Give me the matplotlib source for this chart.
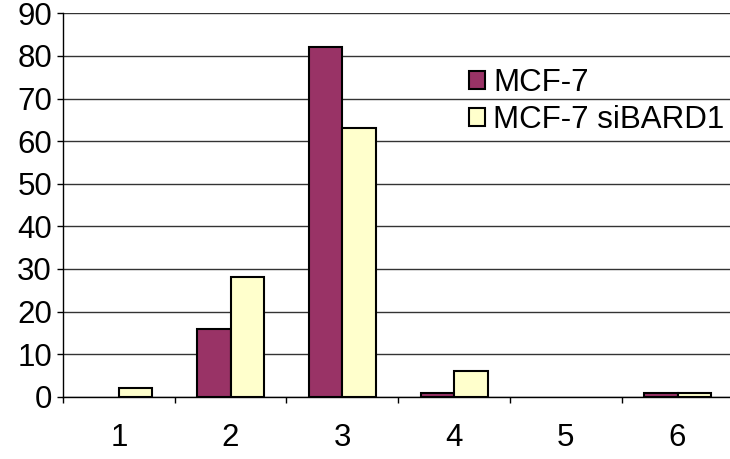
import matplotlib
matplotlib.use("Agg")
import matplotlib.pyplot as plt
import numpy as np

categories = ["1", "2", "3", "4", "5", "6"]
series_names = ["MCF-7", "MCF-7 siBARD1"]
mcf7 = [0, 16, 82, 1, 0, 1]
sibard1 = [2, 28, 63, 6, 0, 1]
colors = ["#993366", "#FFFFCC"]

plt.rcParams["font.family"] = ["Liberation Sans", "DejaVu Sans"]

W, H = 730, 459
fig = plt.figure(figsize=(W / 100, H / 100), dpi=100)
ax_left, ax_right, ax_top, ax_bottom = 63, 733.4, 13.3, 396.8
ax = fig.add_axes([ax_left / W, (H - ax_bottom) / H,
                   (ax_right - ax_left) / W, (ax_bottom - ax_top) / H])

x = np.arange(1, len(categories) + 1)
bw = 0.3
for vals, off, col, name in [(mcf7, -bw / 2, colors[0], series_names[0]),
                             (sibard1, bw / 2, colors[1], series_names[1])]:
    lws = [1.5 if v > 0 else 0 for v in vals]
    ax.bar(x + off, vals, bw, color=col, edgecolor="black",
           linewidth=lws, label=name, zorder=3)

ax.set_xlim(0.5, len(categories) + 0.5)
ax.set_ylim(0, 90)
ax.set_yticks(np.arange(0, 91, 10))
ax.yaxis.grid(True, color="#333333", linewidth=1.0, zorder=0)
ax.set_axisbelow(True)

for s in ["top", "right"]:
    ax.spines[s].set_visible(False)
ax.spines["left"].set_linewidth(1.0)
ax.spines["bottom"].set_linewidth(1.0)
ax.spines["bottom"].set_zorder(4)

ax.set_xticks(np.arange(0.5, len(categories) + 1, 1.0))
ax.set_xticklabels([])
ax.set_xticks(x, minor=True)
ax.set_xticklabels(categories, minor=True)
ax.tick_params(axis="x", which="major", direction="out", length=4.3, width=1.0)
ax.tick_params(axis="x", which="minor", length=0, pad=19, labelsize=22.5)
ax.tick_params(axis="y", direction="out", length=4.3, width=1.0, pad=3.6,
               labelsize=22.5)

leg = ax.legend(loc="upper left", bbox_to_anchor=(469 / W, 1 - 68 / H),
                bbox_transform=fig.transFigure, frameon=False, fontsize=22.5,
                handlelength=0.5, handleheight=0.5, handletextpad=0.27,
                labelspacing=0.22, borderpad=0, borderaxespad=0)
for h in leg.legend_handles:
    h.set_linewidth(1.5)

fig.savefig("out.png", dpi=100)
